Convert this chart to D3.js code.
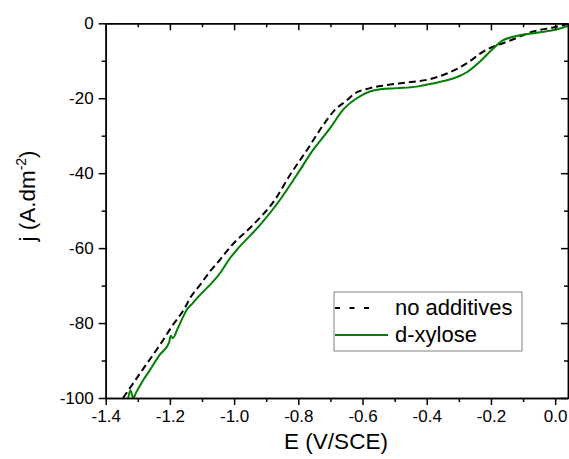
<!DOCTYPE html>
<html><head><meta charset="utf-8">
<script src="https://cdn.jsdelivr.net/npm/d3@7/dist/d3.min.js"></script>
<style>body{margin:0;background:#fff}svg{display:block;font-family:"Liberation Sans",Arial,sans-serif}</style>
</head><body><svg id="c" width="569" height="459"></svg>
<script>
const xTicks = [-1.4, -1.2, -1.0, -0.8, -0.6, -0.4, -0.2, 0.0];
const yTicks = [0, -20, -40, -60, -80, -100];
const seriesNames = ["no additives", "d-xylose"];
const blackE = [-1.346, -1.279, -1.227, -1.194, -1.153, -1.137, -1.106, -1.075, -1.044, -1.01, -0.941, -0.873, -0.826, -0.773, -0.722, -0.686, -0.648, -0.630, -0.577, -0.525, -0.462, -0.390, -0.274, -0.225, -0.140, -0.069, -0.006, 0.040];
const blackJ = [-100, -91.7, -85.3, -80.9, -75.9, -73.3, -69.8, -66.2, -63.1, -59.5, -53.8, -47.1, -40.5, -33.8, -27.1, -23.1, -20.5, -19.1, -17.3, -16.5, -15.8, -14.9, -10.6, -7.6, -4.6, -2.2, -1.1, -0.2];
const greenE = [-1.330, -1.323, -1.314, -1.305, -1.288, -1.262, -1.232, -1.203, -1.197, -1.191, -1.175, -1.163, -1.148, -1.128, -1.101, -1.075, -1.044, -1.013, -0.992, -0.919, -0.857, -0.805, -0.754, -0.701, -0.661, -0.618, -0.577, -0.545, -0.493, -0.431, -0.390, -0.274, -0.234, -0.193, -0.162, -0.131, -0.056, 0.006, 0.040];
const greenJ = [-100, -98.0, -100, -98.5, -95.9, -92.5, -88.5, -85.3, -83.4, -84.0, -81.3, -79.1, -76.5, -74.6, -72.0, -69.8, -66.7, -62.7, -60.5, -53.8, -47.1, -40.5, -33.8, -28.0, -23.1, -20.0, -18.2, -17.6, -17.3, -16.9, -16.2, -13.0, -10.2, -6.7, -4.5, -3.6, -2.5, -1.6, -0.7];

const FONT = "'Liberation Sans', Arial, sans-serif";
const L = 105.7, R = 568, T = 23.3, B = 398;
const svg = d3.select("#c");
const x = d3.scaleLinear().domain([-1.4, 0.04]).range([L, R]);
const y = d3.scaleLinear().domain([-100, 0]).range([B, T]);

svg.append("clipPath").attr("id","clip").append("rect").attr("x",L).attr("y",T).attr("width",R-L).attr("height",B-T);

const line = d3.line().x(d=>x(d[0])).y(d=>y(d[1])).curve(d3.curveMonotoneX);
const g = svg.append("g").attr("clip-path","url(#clip)");
g.append("path").datum(blackE.map((e,i)=>[e,blackJ[i]])).attr("d",line)
  .attr("fill","none").attr("stroke","#000").attr("stroke-width",2).attr("stroke-dasharray","7,4");
g.append("path").datum(greenE.map((e,i)=>[e,greenJ[i]])).attr("d",line)
  .attr("fill","none").attr("stroke","#008000").attr("stroke-width",2);

const xMinor = d3.range(-1.3, 0.05, 0.2);
const yMinor = [-10,-30,-50,-70,-90];
const fmtX = d=>d3.format(".1f")(d).replace("−","-");

function axis(gen, tr){
  const a = svg.append("g").attr("transform",tr).call(gen);
  a.select(".domain").attr("stroke-width",1.5);
  a.selectAll(".tick line").attr("stroke-width",1.5);
  a.selectAll("text").attr("font-size",17).attr("font-family",FONT).attr("fill","#000");
  return a;
}
axis(d3.axisBottom(x).tickValues(xTicks).tickFormat(fmtX).tickSizeInner(7).tickSizeOuter(0).tickPadding(5), `translate(0,${B})`);
axis(d3.axisBottom(x).tickValues(xMinor).tickFormat("").tickSizeInner(4).tickSizeOuter(0), `translate(0,${B})`);
axis(d3.axisTop(x).tickValues(xTicks).tickFormat("").tickSizeInner(-7).tickSizeOuter(0), `translate(0,${T})`);
axis(d3.axisTop(x).tickValues(xMinor).tickFormat("").tickSizeInner(-4).tickSizeOuter(0), `translate(0,${T})`);
axis(d3.axisLeft(y).tickValues(yTicks).tickFormat(d=>String(d)).tickSizeInner(7).tickSizeOuter(0).tickPadding(5), `translate(${L},0)`);
axis(d3.axisLeft(y).tickValues(yMinor).tickFormat("").tickSizeInner(4).tickSizeOuter(0), `translate(${L},0)`);
axis(d3.axisRight(y).tickValues(yTicks).tickFormat("").tickSizeInner(-7).tickSizeOuter(0), `translate(${R},0)`);
axis(d3.axisRight(y).tickValues(yMinor).tickFormat("").tickSizeInner(-4).tickSizeOuter(0), `translate(${R},0)`);

svg.append("text").attr("x",336).attr("y",449).attr("text-anchor","middle")
  .attr("font-family",FONT).attr("font-size",22.5).text("E (V/SCE)");
const yt = svg.append("text").attr("transform","translate(35,196) rotate(-90)").attr("text-anchor","middle").attr("font-family",FONT).attr("font-size",22.5);
yt.append("tspan").text("j (A.dm");
yt.append("tspan").attr("font-size",14).attr("dy",-9).text("-2");
yt.append("tspan").attr("dy",9).text(")");

const lg = svg.append("g");
lg.append("rect").attr("x",334).attr("y",292).attr("width",188).attr("height",59).attr("fill","#fff").attr("stroke","#808080").attr("stroke-width",1);
const rows = [{y:308, stroke:"#000", dash:"5,9.5", x2:370}, {y:335, stroke:"#008000", dash:null, x2:388}];
rows.forEach((r,i)=>{
  const ln = lg.append("line").attr("x1",335).attr("x2",r.x2).attr("y1",r.y).attr("y2",r.y).attr("stroke",r.stroke).attr("stroke-width",2);
  if(r.dash) ln.attr("stroke-dasharray",r.dash);
  lg.append("text").attr("x",395).attr("y",r.y+7).attr("font-family",FONT).attr("font-size",22).text(seriesNames[i]);
});
</script></body></html>
